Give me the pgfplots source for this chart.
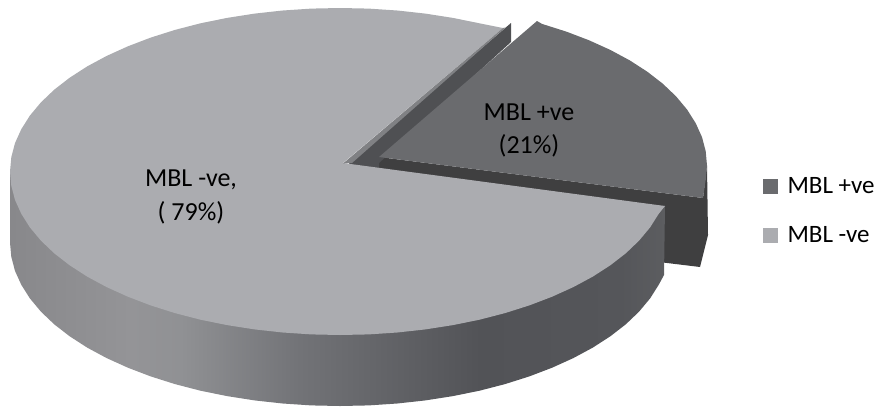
\documentclass[border=0pt]{standalone}
\usepackage{fontspec}
\setmainfont{Carlito}
\usepackage{pgfplots}
\pgfplotsset{compat=1.18}
\definecolor{bigtop}{HTML}{ABACB0}
\definecolor{smalltop}{HTML}{6A6B6E}
\definecolor{smallside}{HTML}{3F3F40}
\definecolor{innerface}{HTML}{4F5053}
\definecolor{edgeface}{HTML}{808184}
\definecolor{labeltext}{HTML}{38383A}
\definecolor{s0}{HTML}{88888B}
\definecolor{s1}{HTML}{949497}
\definecolor{s2}{HTML}{909194}
\definecolor{s3}{HTML}{727377}
\definecolor{s4}{HTML}{606165}
\definecolor{s5}{HTML}{525357}
\definecolor{s6}{HTML}{55565A}
\definecolor{s7}{HTML}{5C5D60}
\pgfdeclarehorizontalshading{sideshade}{100bp}{color(0bp)=(s0); color(25bp)=(s0); color(34.2bp)=(s1); color(38bp)=(s2); color(47.1bp)=(s3); color(54.8bp)=(s4); color(60.9bp)=(s5); color(71.6bp)=(s6); color(75bp)=(s7); color(100bp)=(s7)}
\begin{document}
\begin{tikzpicture}
\begin{axis}[
  scale only axis, width=877pt, height=408pt,
  xmin=0, xmax=877, ymin=0, ymax=408, y dir=reverse,
  hide axis, clip=false,
  every node/.append style={text=labeltext, inner sep=0pt, align=center},
]
% exploded slice: front and outer side
\addplot[draw=none, fill=smallside] coordinates {
 (379,157) (379,228) (700,267) (708,235) (707,165.5) (703,198)} -- cycle;
% inner face of the large slice seen through the gap
\addplot[draw=none, fill=innerface] coordinates {
 (349,162.5) (350,166) (379,172) (379,163) (511,42) (511,23)} -- cycle;
% exploded slice: top
\addplot[draw=none, fill=smalltop] coordinates {
 (379,157) (537,21) (542,23.9) (566.3,31.6) (589.1,40.3) (610.3,49.9) (629.8,60.4)
 (647.3,71.7) (662.8,83.7) (676.1,96.4) (687.1,109.6) (695.7,123.2) (702,137.1)
 (705.7,151.2) (707,165.5) (705.7,179.8) (703,198)} -- cycle;
% large slice: side
\addplot[draw=none, shade, shading=sideshade] coordinates {
 (10,171.5) (665,206) (664,275)
 (658.7,284.8) (650.1,298.4) (639.1,311.6) (625.8,324.3) (610.3,336.3) (592.8,347.6)
 (573.3,358.1) (552.1,367.7) (529.3,376.4) (505,384.1) (479.5,390.7) (452.9,396.1)
 (425.4,400.4) (397.3,403.5) (368.8,405.4) (340,406) (311.2,405.4) (282.7,403.5)
 (254.6,400.4) (227.1,396.1) (200.5,390.7) (175,384.1) (150.7,376.4) (127.9,367.7)
 (106.7,358.1) (87.2,347.6) (69.7,336.3) (54.2,324.3) (40.9,311.6) (29.9,298.4)
 (21.3,284.8) (15,270.9) (11.3,256.8) (10,242.5)} -- cycle;
% large slice: top
\addplot[draw=none, fill=bigtop] coordinates {
 (343,163) (665,206)
 (658.7,213.8) (650.1,227.4) (639.1,240.6) (625.8,253.3) (610.3,265.3) (592.8,276.6)
 (573.3,287.1) (552.1,296.7) (529.3,305.4) (505,313.1) (479.5,319.7) (452.9,325.1)
 (425.4,329.4) (397.3,332.5) (368.8,334.4) (340,335) (311.2,334.4) (282.7,332.5)
 (254.6,329.4) (227.1,325.1) (200.5,319.7) (175,313.1) (150.7,305.4) (127.9,296.7)
 (106.7,287.1) (87.2,276.6) (69.7,265.3) (54.2,253.3) (40.9,240.6) (29.9,227.4)
 (21.3,213.8) (15,199.9) (11.3,185.8) (10,171.5) (11.3,157.2) (15,143.1) (21.3,129.2)
 (29.9,115.6) (40.9,102.4) (54.2,89.7) (69.7,77.7) (87.2,66.4) (106.7,55.9) (127.9,46.3)
 (150.7,37.6) (175,29.9) (200.5,23.3) (227.1,17.9) (254.6,13.6) (282.7,10.5) (311.2,8.6)
 (340,8) (368.8,8.6) (397.3,10.5) (425.4,13.6) (452.9,17.9) (479.5,23.3) (503,28)} -- cycle;
% narrow lit edge along the cut
\addplot[draw=none, fill=edgeface] coordinates {
 (343,163.5) (352,163) (505.5,27.5) (503,28)} -- cycle;
% legend keys
\addplot[draw=none, fill=smalltop] coordinates {(763,179) (778,179) (778,194) (763,194)} -- cycle;
\addplot[draw=none, fill=bigtop] coordinates {(763,228) (778,228) (778,243) (763,243)} -- cycle;
% labels
\node[font=\fontsize{26}{30}\selectfont] at (axis cs:529,112) {MBL +ve};
\node[font=\fontsize{26}{30}\selectfont] at (axis cs:529,146) {(21\%)};
\node[font=\fontsize{26}{30}\selectfont] at (axis cs:191,180) {MBL -ve,};
\node[font=\fontsize{26}{30}\selectfont] at (axis cs:191,213) {( 79\%)};
\node[font=\fontsize{25}{30}\selectfont, anchor=west] at (axis cs:784,186) {MBL +ve};
\node[font=\fontsize{25}{30}\selectfont, anchor=west] at (axis cs:784,235) {MBL -ve};
\end{axis}
\pgfresetboundingbox
\useasboundingbox (0,0) rectangle (877pt,408pt);
\end{tikzpicture}
\end{document}
